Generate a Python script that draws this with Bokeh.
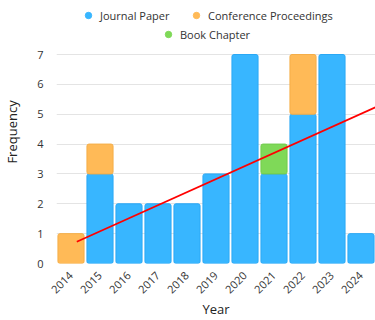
import numpy as np
from bokeh.plotting import figure
from bokeh.models import ColumnDataSource, Legend, LegendItem, FixedTicker, Range1d
from bokeh.embed import file_html
from bokeh.resources import INLINE
from math import pi

years = [2014, 2015, 2016, 2017, 2018, 2019, 2020, 2021, 2022, 2023, 2024]
journal = [0, 3, 2, 2, 2, 3, 7, 3, 5, 7, 1]
conference = [1, 1, 0, 0, 0, 0, 0, 0, 2, 0, 0]
book = [0, 0, 0, 0, 0, 0, 0, 1, 0, 0, 0]
series_names = ["Journal Paper", "Conference Proceedings", "Book Chapter"]
trend_x = [2014.2, 2024.5]
trend_y = [0.73, 5.23]
y_ticks = [0, 1, 2, 3, 4, 5, 6, 7]

fills = ["#38B6FF", "#FFBA57", "#7FD958"]
lines = ["#2AA8F5", "#F5AE48", "#72CC4C"]
FONT = "Open Sans"

# layout: frame spans the figure top down to the x axis; value 7 sits 54px from top
FRAME_H = 263
PX_PER_UNIT = (263 - 54) / 7.0
y_top = FRAME_H / PX_PER_UNIT

p = figure(width=375, height=320, output_backend="svg", toolbar_location=None,
           x_range=Range1d(2013.5, 2024.5), y_range=Range1d(0, y_top),
           min_border_left=45, min_border_right=0, min_border_top=0, min_border_bottom=57)
p.outline_line_color = None

bottom = np.zeros(len(years))
for vals, fc, lc in zip([journal, conference, book], fills, lines):
    v = np.array(vals, dtype=float)
    src = ColumnDataSource(dict(x=years, bottom=bottom.copy(), top=bottom + v,
                                la=[1.0 if q > 0 else 0.0 for q in v],
                                fa=[1.0 if q > 0 else 0.0 for q in v]))
    p.vbar(x="x", bottom="bottom", top="top", width=0.9, source=src,
           fill_color=fc, fill_alpha="fa", line_color=lc, line_alpha="la", line_width=1,
           border_radius=2)
    bottom = bottom + v

p.line(trend_x, trend_y, line_color="#FF0000", line_width=1.8)

# legend proxy glyphs (placed off-range so only their legend swatches show)
proxies = []
for fc in fills:
    proxies.append(p.scatter(x=[1990], y=[-50], marker="circle", size=11,
                             fill_color=fc, line_color=fc))

def mk_legend(i, loc):
    return Legend(items=[LegendItem(label=series_names[i], renderers=[proxies[i]])],
                  orientation="horizontal", location=loc,
                  label_text_font=FONT, label_text_font_size="11px", label_text_color="#333333",
                  glyph_width=16, glyph_height=16, label_standoff=4, spacing=0,
                  padding=0, margin=0, border_line_color=None, background_fill_alpha=0,
                  label_height=16)

p.add_layout(mk_legend(0, (24, 240)), "center")
p.add_layout(mk_legend(1, (132, 240)), "center")
p.add_layout(mk_legend(2, (104, 221)), "center")

p.xaxis.ticker = FixedTicker(ticks=years)
p.yaxis.ticker = FixedTicker(ticks=y_ticks)
p.xaxis.major_label_orientation = pi / 4
for ax in [p.xaxis[0], p.yaxis[0]]:
    ax.axis_line_color = None
    ax.major_tick_line_color = None
    ax.minor_tick_line_color = None
    ax.major_label_text_font = FONT
    ax.major_label_text_font_size = "11px"
    ax.major_label_text_color = "#333333"
    ax.axis_label_text_font = FONT
    ax.axis_label_text_font_size = "13px"
    ax.axis_label_text_font_style = "normal"
    ax.axis_label_text_color = "#222222"
p.xaxis.axis_label = "Year"
p.yaxis.axis_label = "Frequency"
p.xaxis.major_label_standoff = 4
p.xaxis.axis_label_standoff = 0
p.yaxis.major_label_standoff = 7
p.yaxis.axis_label_standoff = 13
p.xgrid.grid_line_color = None
p.ygrid.grid_line_color = "#E4E4E4"
p.ygrid.grid_line_width = 1

open("out.html", "w").write(file_html(p, INLINE))
